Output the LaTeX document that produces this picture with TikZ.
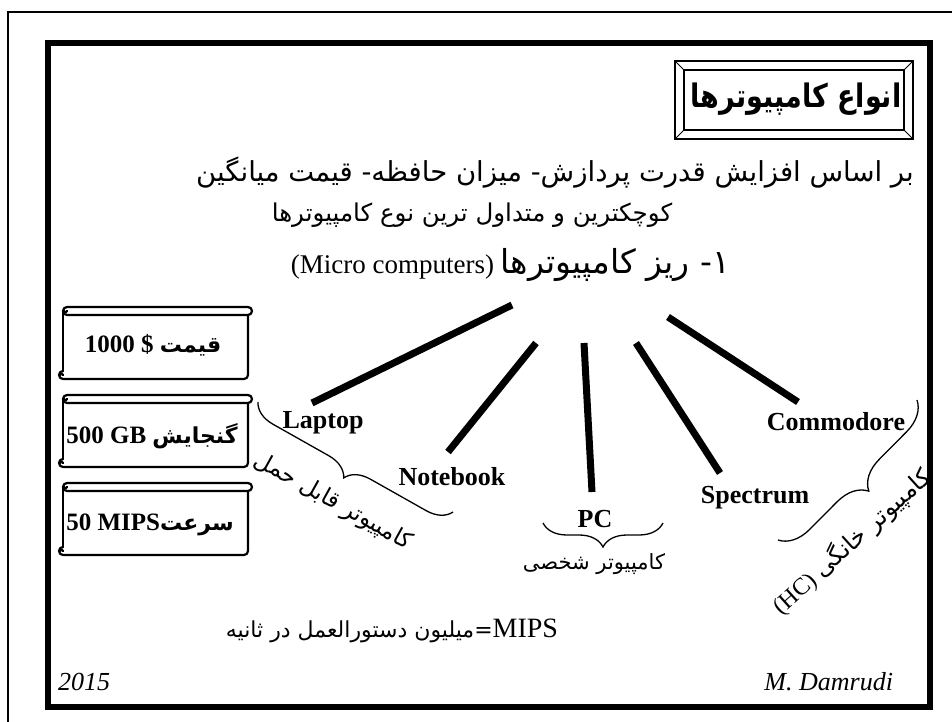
\documentclass[tikz,border=0pt]{standalone}
\usepackage{fontspec}
\setmainfont{Liberation Serif}
\newfontfamily\fa[Script=Arabic]{DejaVu Sans}
\TeXXeTstate=1
\usetikzlibrary{decorations.pathreplacing}
\begin{document}
\begin{tikzpicture}[x=1pt,y=-1pt,
  every node/.style={inner sep=0pt, outer sep=0pt},
  fan/.style={line width=7pt},
  brc/.style={decorate, decoration={brace, amplitude=#1}, line width=1.3pt},
  eng/.style={font=\fontsize{26}{30}\selectfont\bfseries},
  scr/.style={line width=2.2pt, line cap=round, line join=round},
  scroll/.pic={
    \draw[scr] (4,-8) -- (185,-8) arc[start angle=-90,end angle=90,radius=4] -- (4,0)
               arc[start angle=90,end angle=270,radius=4];
    \draw[scr] (4,-4) arc[start angle=0,end angle=180,radius=1.6];
    \draw[scr] (0,-4) -- (0,56);
    \draw[scr] (185,0) -- (185,60) arc[start angle=0,end angle=90,radius=4] -- (0,64);
    \draw[scr] (0,56) arc[start angle=-90,end angle=-270,radius=4];
    \draw[scr] (0,60) arc[start angle=0,end angle=-180,radius=1.6];
  }
]
\fill[white] (0,0) rectangle (952,722);
\useasboundingbox (0,0) rectangle (952,722);
% frames
\draw[line width=2pt] (8,722) -- (8,12.5) -- (952,12.5);
\draw[line width=6pt] (48,43) rectangle (930,707);
% title box
\draw[line width=1.2pt] (675,61) rectangle (913,139);
\draw[line width=1.2pt] (684,70) rectangle (904,130);
\draw[line width=1pt] (675,61) -- (684,70) (913,61) -- (904,70) (675,139) -- (684,130) (913,139) -- (904,130);
\node[anchor=base] (title) at (796,108) {\scalebox{1}[1.2]{\fontsize{27}{30}\selectfont\fa\bfseries\beginR انواع کامپیوترها\endR}};
% text lines
\node[anchor=base] (l1) at (555,182) {\fontsize{27.5}{32}\selectfont\fa\beginR بر اساس افزایش قدرت پردازش- میزان حافظه- قیمت میانگین\endR};
\node[anchor=base] (l2) at (472,221) {\fontsize{24.5}{28}\selectfont\fa\beginR کوچکترین و متداول ترین نوع کامپیوترها\endR};
\node[anchor=base east] (head) at (730,273) {\fontsize{27}{32}\selectfont\beginR{\fa\fontsize{33}{36}\selectfont ۱- ریز کامپیوترها} \beginL(Micro computers)\endL\endR};
% labels
\node[eng,anchor=base] (laptop) at (323,428) {Laptop};
\node[eng,anchor=base] (notebook) at (452,485) {Notebook};
\node[eng,anchor=base] (pc) at (595,527) {PC};
\node[eng,anchor=base] (spectrum) at (755,503) {Spectrum};
\node[eng,anchor=base] (commodore) at (836,430) {Commodore};
% fan
\coordinate (f1s) at (512,305); \coordinate (f1e) at (312,403);
\coordinate (f2s) at (536,343); \coordinate (f2e) at (448,452);
\coordinate (f3s) at (584,343); \coordinate (f3e) at (592,492);
\coordinate (f4s) at (636,343); \coordinate (f4e) at (720,473);
\coordinate (f5s) at (668,317); \coordinate (f5e) at (798,402);
\draw[fan] (f1s) -- (f1e);
\draw[fan] (f2s) -- (f2e);
\draw[fan] (f3s) -- (f3e);
\draw[fan] (f4s) -- (f4e);
\draw[fan] (f5s) -- (f5e);
% braces
\coordinate (b1a) at (453,512); \coordinate (b1b) at (258,402);
\draw[brc=24pt] (b1a) -- (b1b);
\node[rotate=-29] (lab1) at (333,502) {\fontsize{23}{27}\selectfont\fa\beginR کامپیوتر قابل حمل\endR};
\coordinate (b2a) at (663,523); \coordinate (b2b) at (543,523);
\draw[brc=24pt] (b2a) -- (b2b);
\node (lab2) at (594,564) {\fontsize{21}{25}\selectfont\fa\beginR کامپیوتر شخصی\endR};
\coordinate (b3a) at (917,400); \coordinate (b3b) at (778,540);
\draw[brc=30pt] (b3a) -- (b3b);
\node[rotate=42] (lab3) at (852,542) {\fontsize{24}{28}\selectfont\beginR{\fa کامپیوتر خانگی} \beginL(HC)\endL\endR};
% scrolls
\pic at (63,315) {scroll};
\pic at (63,403) {scroll};
\pic at (63,491) {scroll};
\node[anchor=base] (s1) at (153,352) {\fontsize{25}{28}\selectfont\bfseries 1000 \$ {\fa\fontsize{22}{25}\selectfont\bfseries قیمت}};
\node[anchor=base] (s2) at (152,443) {\fontsize{25}{28}\selectfont\bfseries 500 GB {\fa\fontsize{22}{25}\selectfont\bfseries گنجایش}};
\node[anchor=base] (s3) at (150,530) {\fontsize{25}{28}\selectfont\bfseries 50 MIPS{\fa\fontsize{22}{25}\selectfont\bfseries سرعت}};
% MIPS definition
\node[anchor=base] (mips) at (392,637) {\fontsize{28}{30}\selectfont\beginR\beginL MIPS\endL{\fa\fontsize{22}{26}\selectfont =میلیون دستورالعمل در ثانیه}\endR};
% footer
\node[anchor=base west] (year) at (58,690) {\fontsize{26}{30}\selectfont\itshape 2015};
\node[anchor=base east] (author) at (893,690) {\fontsize{26}{30}\selectfont\itshape M. Damrudi};
\end{tikzpicture}
\end{document}
